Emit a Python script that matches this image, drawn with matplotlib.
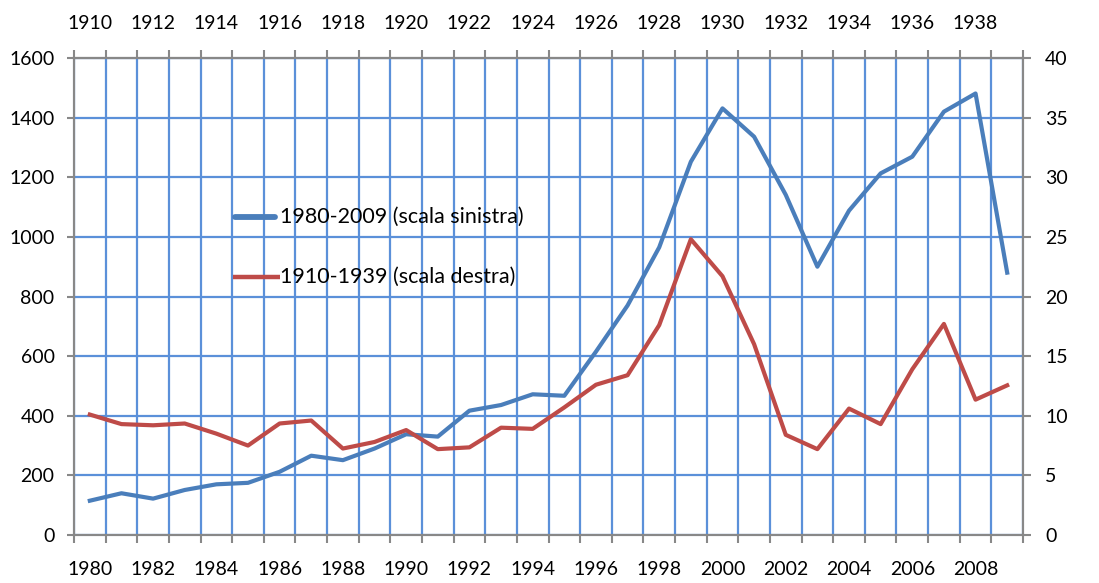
import matplotlib.pyplot as plt
from matplotlib.ticker import MultipleLocator, FixedLocator

# years on the two x axes
years_recent = [str(y) for y in range(1980, 2010)]
years_old = [str(y) for y in range(1910, 1940)]

# 1980-2009 (left scale)
recent = [115, 140, 122, 151, 170, 175, 212, 266, 251, 290,
          338, 330, 417, 436, 472, 467, 615, 770, 965, 1252,
          1431, 1336, 1141, 900, 1088, 1213, 1269, 1420, 1481, 880]
# 1910-1939 (right scale)
old = [10.1, 9.3, 9.2, 9.35, 8.5, 7.5, 9.35, 9.6, 7.25, 7.8,
       8.8, 7.2, 7.35, 9.0, 8.9, 10.7, 12.6, 13.4, 17.6, 24.8,
       21.7, 16.0, 8.4, 7.2, 10.6, 9.3, 13.9, 17.7, 11.35, 12.55]

plt.rcParams['font.family'] = ['Lato', 'DejaVu Sans']
grid_col = '#5b90d9'
axis_col = '#888888'
blue = '#4a7ebb'
red = '#be4b48'
txt = '#000000'
fs = 14

fig = plt.figure(figsize=(10.99, 5.83), dpi=100)
ax = fig.add_axes([74 / 1099, 48 / 583, 949 / 1099, 477 / 583])
ax2 = ax.twinx()

x = list(range(len(recent)))
ax.plot(x, recent, color=blue, lw=3.0, solid_joinstyle='round', zorder=3)
ax2.plot(x, old, color=red, lw=3.0, solid_joinstyle='round', zorder=3)

ax.set_xlim(-0.5, 29.5)
ax.set_ylim(0, 1600)
ax2.set_ylim(0, 40)

# category axis: labels in the middle, ticks and grid on boundaries
ax.set_xticks(x[::2])
ax.set_xticklabels(years_recent[::2])
ax.xaxis.set_minor_locator(FixedLocator([i - 0.5 for i in range(31)]))
ax.tick_params(axis='x', which='major', length=0, pad=19, labelsize=fs, labelcolor=txt)
ax.tick_params(axis='x', which='minor', length=6, width=1.5, color=axis_col, direction='out')

ax.yaxis.set_major_locator(MultipleLocator(200))
ax.tick_params(axis='y', length=5, width=1.5, color=axis_col, pad=9, labelsize=fs, labelcolor=txt)
ax2.yaxis.set_major_locator(MultipleLocator(5))
ax2.tick_params(axis='y', length=6, width=1.5, color=axis_col, pad=10, labelsize=fs, labelcolor=txt)

top = ax.secondary_xaxis('top')
top.set_xticks(x[::2])
top.set_xticklabels(years_old[::2])
top.xaxis.set_minor_locator(FixedLocator([i - 0.5 for i in range(31)]))
top.tick_params(axis='x', which='major', length=0, pad=19, labelsize=fs, labelcolor=txt)
top.tick_params(axis='x', which='minor', length=6, width=1.5, color=axis_col, direction='out')

ax.grid(which='minor', axis='x', color=grid_col, lw=1.6)
ax.grid(which='major', axis='y', color=grid_col, lw=1.6)
ax.set_axisbelow(True)

for a in (ax, ax2):
    for s in a.spines.values():
        s.set_color(axis_col)
        s.set_linewidth(1.5)
top.spines['top'].set_color(axis_col)
top.spines['top'].set_linewidth(1.5)

# legend drawn as lines + text, no frame
ax.plot([4.6, 5.85], [1067, 1067], color=blue, lw=4.2, solid_capstyle='round', zorder=4)
ax.text(6.02, 1067, '1980-2009 (scala sinistra)', va='center', ha='left', fontsize=15.5, color=txt)
ax.plot([4.53, 6.0], [866, 866], color=red, lw=3.2, solid_capstyle='butt', zorder=4)
ax.text(6.02, 866, '1910-1939 (scala destra)', va='center', ha='left', fontsize=15.5, color=txt)

fig.savefig('out.png', dpi=100)
